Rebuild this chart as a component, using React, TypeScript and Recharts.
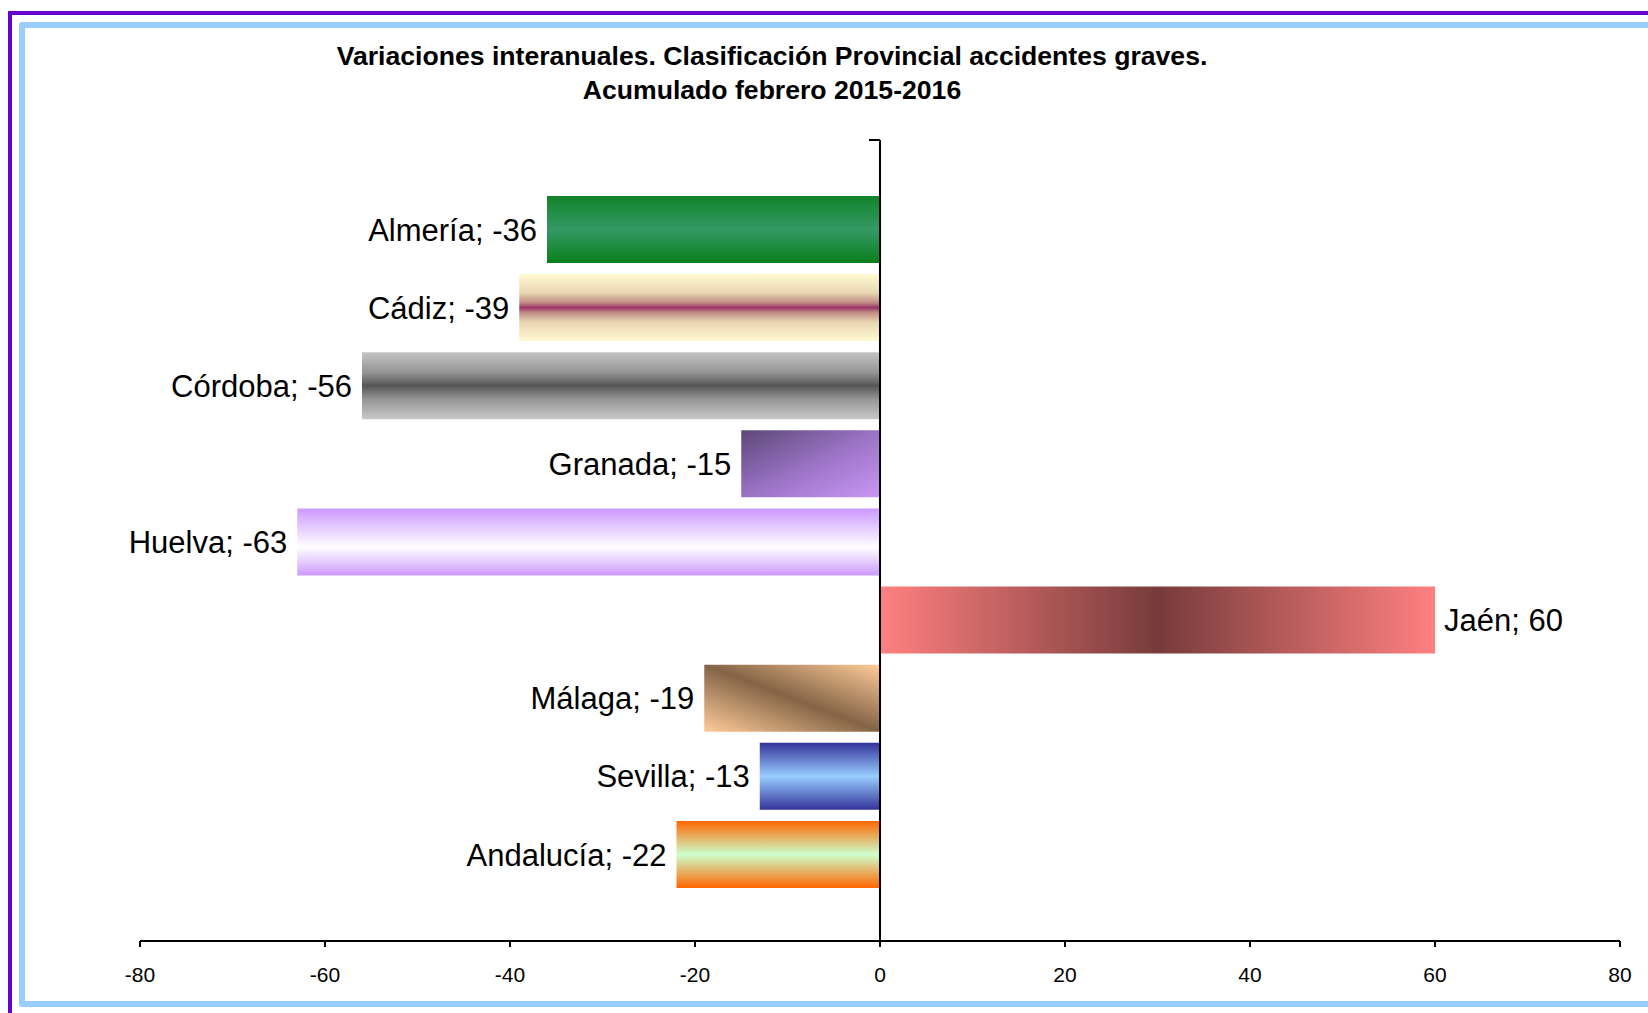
import React from 'react';
import { BarChart, Bar, XAxis, YAxis, Cell, LabelList, ReferenceLine } from 'recharts';

const categories = ['Almería', 'Cádiz', 'Córdoba', 'Granada', 'Huelva', 'Jaén', 'Málaga', 'Sevilla', 'Andalucía'];
const values = [-36, -39, -56, -15, -63, 60, -19, -13, -22];
const xTicks = [-80, -60, -40, -20, 0, 20, 40, 60, 80];
const titleLines = [
  'Variaciones interanuales. Clasificación Provincial accidentes graves.',
  'Acumulado febrero 2015-2016',
];

const W = 1648;
const H = 1013;
const margin = { top: 140, right: 28, bottom: 42, left: 140 };
const FONT = '"Liberation Sans", Arial, Helvetica, sans-serif';

// one gradient per bar, same order as categories
const gradients: Array<{ dir: [number, number, number, number]; stops: Array<[number, string]> }> = [
  { dir: [0, 0, 0, 1], stops: [[0, '#12832a'], [0.5, '#339966'], [1, '#0a7f1a']] },
  {
    dir: [0, 0, 0, 1],
    stops: [[0, '#fffad2'], [0.28, '#e9d6b2'], [0.43, '#bf8a84'], [0.5, '#993366'], [0.57, '#bf8a84'], [0.72, '#e9d6b2'], [1, '#fffad2']],
  },
  { dir: [0, 0, 0, 1], stops: [[0, '#c4c4c4'], [0.3, '#959595'], [0.5, '#565656'], [0.7, '#959595'], [1, '#c8c8c8']] },
  { dir: [0, 0, 1, 1], stops: [[0, '#5c4878'], [0.5, '#9a72c4'], [1, '#c997f6']] },
  { dir: [0, 0, 0, 1], stops: [[0, '#cc99ff'], [0.58, '#ffffff'], [1, '#cc99ff']] },
  { dir: [0, 0, 1, 0], stops: [[0, '#ff8080'], [0.5, '#773b3b'], [1, '#ff8080']] },
  { dir: [0, 1, 1, 0], stops: [[0, '#ffcc99'], [0.5, '#846446'], [1, '#ffcc99']] },
  { dir: [0, 0, 0, 1], stops: [[0, '#333399'], [0.5, '#99ccff'], [1, '#333399']] },
  { dir: [0, 0, 0, 1], stops: [[0, '#ff6600'], [0.5, '#ccffcc'], [1, '#ff6600']] },
];

const data = categories.map((name, i) => ({ name, value: values[i] }));

const renderLabel = (props: any) => {
  const x = Number(props.x);
  const y = Number(props.y);
  const width = Number(props.width);
  const height = Number(props.height);
  const i = props.index;
  const v = values[i];
  const left = Math.min(x, x + width);
  const right = Math.max(x, x + width);
  const neg = v < 0;
  return (
    <text
      x={neg ? left - 10 : right + 9}
      y={y + height / 2}
      dy="0.36em"
      textAnchor={neg ? 'end' : 'start'}
      fontSize={31}
      fontFamily={FONT}
      fill="#000"
    >
      {`${categories[i]}; ${v}`}
    </text>
  );
};

export default function App() {
  const plotW = W - margin.left - margin.right;
  const zeroX = margin.left + ((0 - xTicks[0]) / (xTicks[xTicks.length - 1] - xTicks[0])) * plotW;

  return (
    <div style={{ position: 'absolute', left: 0, top: 0, width: W, height: H, overflow: 'hidden', background: '#fff' }}>
      <div style={{ position: 'absolute', left: 8, top: 11, width: 1800, height: 1200, border: '4px solid #6600cc' }} />
      <div
        style={{
          position: 'absolute',
          left: 19,
          top: 22,
          width: 1800,
          height: 973,
          border: '6px solid #99ccff',
          borderRadius: 3,
        }}
      />
      <div
        style={{
          position: 'absolute',
          left: 0,
          top: 39,
          width: 1544,
          textAlign: 'center',
          fontFamily: FONT,
          fontWeight: 'bold',
          fontSize: 26.6,
          lineHeight: '34px',
          color: '#000',
        }}
      >
        {titleLines.map((t) => (
          <div key={t}>{t}</div>
        ))}
      </div>
      <div style={{ position: 'absolute', left: 0, top: 0 }}>
        <BarChart width={W} height={H} data={data} layout="vertical" margin={margin}>
          <defs>
            {gradients.map((g, i) => (
              <linearGradient key={i} id={`bg${i}`} x1={g.dir[0]} y1={g.dir[1]} x2={g.dir[2]} y2={g.dir[3]}>
                {g.stops.map(([o, c], j) => (
                  <stop key={j} offset={o} stopColor={c} />
                ))}
              </linearGradient>
            ))}
          </defs>
          <XAxis
            type="number"
            domain={[xTicks[0], xTicks[xTicks.length - 1]]}
            ticks={xTicks}
            interval={0}
            height={30}
            tickSize={6}
            tickMargin={20}
            stroke="#000"
            strokeWidth={2}
            tick={{ fill: '#000', fontSize: 21, fontFamily: FONT }}
            allowDataOverflow
          />
          <YAxis type="category" dataKey="name" hide padding={{ top: 50, bottom: 48 }} />
          <Bar dataKey="value" barSize={67} isAnimationActive={false}>
            {data.map((d, i) => (
              <Cell key={d.name} fill={`url(#bg${i})`} />
            ))}
            <LabelList dataKey="value" content={renderLabel} />
          </Bar>
          <ReferenceLine x={0} stroke="#000" strokeWidth={2} />
        </BarChart>
      </div>
      <div style={{ position: 'absolute', left: zeroX - 11, top: margin.top - 1, width: 11, height: 2, background: '#000' }} />
    </div>
  );
}
